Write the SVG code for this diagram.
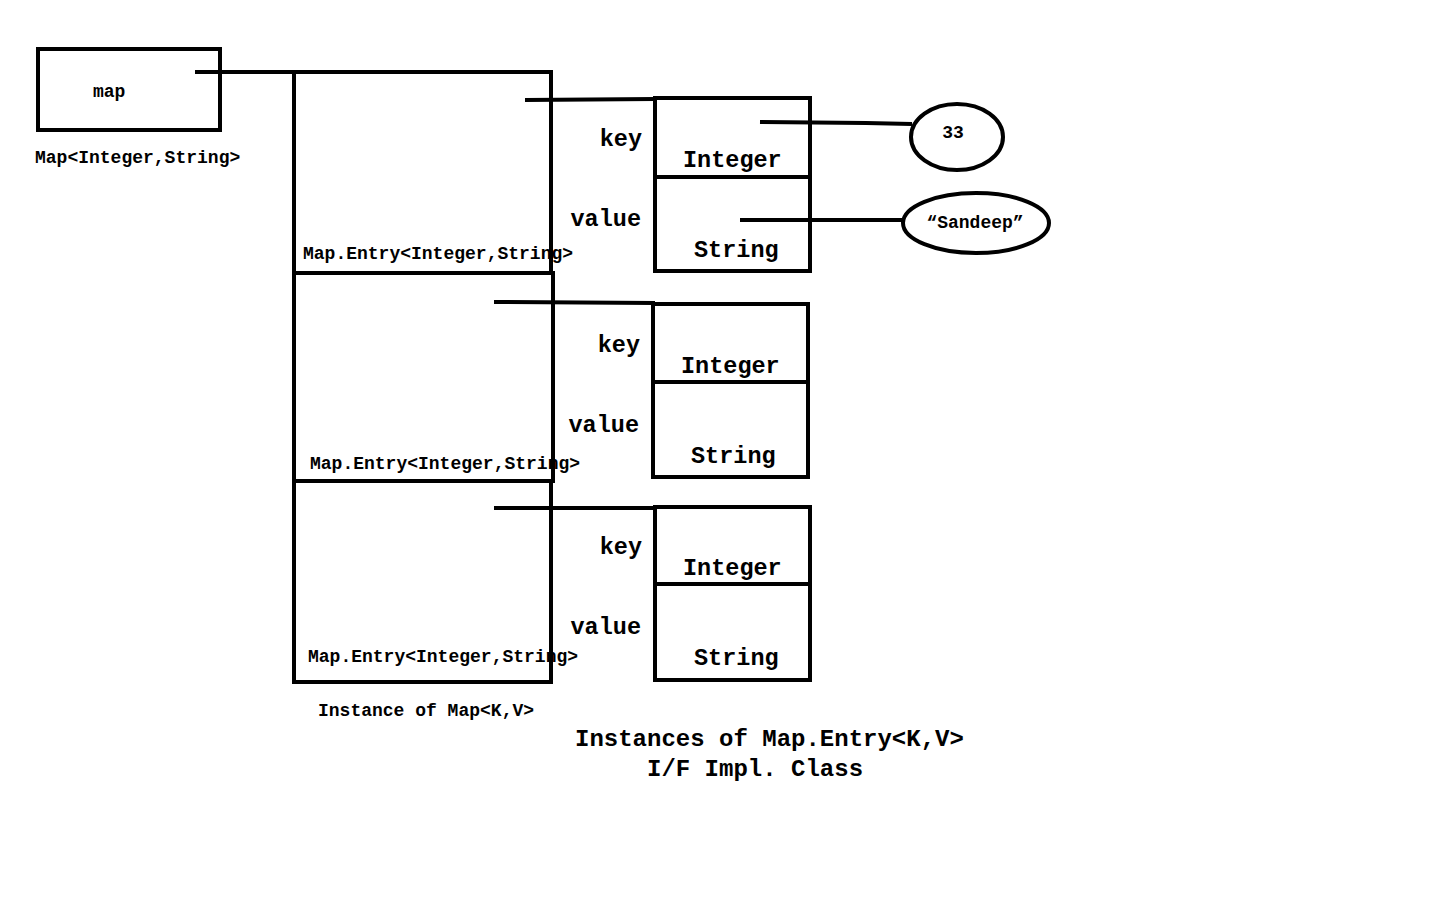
<svg xmlns="http://www.w3.org/2000/svg" width="1440" height="900" viewBox="0 0 1440 900">
<style>
.b{fill:none;stroke:#000;stroke-width:4}
.c{fill:none;stroke:#000;stroke-width:4}
text{font-family:"Liberation Mono","Courier New",monospace;font-weight:bold;fill:#000}
.s{font-size:18px}
.m{font-size:23.5px}
.l{font-size:24px}
</style>
<rect width="1440" height="900" fill="#fff"/>
<g id="map-ref">
<rect class="b" x="38" y="49" width="182" height="81"/>
<text class="s" x="93" y="97">map</text>
<text class="s" x="35" y="163">Map&lt;Integer,String&gt;</text>
</g>
<g id="map-instance">
<rect class="b" x="294" y="72" width="257" height="201"/>
<rect class="b" x="294" y="273" width="259" height="208"/>
<rect class="b" x="294" y="481" width="257" height="201"/>
<text class="s" x="303" y="259">Map.Entry&lt;Integer,String&gt;</text>
<text class="s" x="310" y="469">Map.Entry&lt;Integer,String&gt;</text>
<text class="s" x="308" y="662">Map.Entry&lt;Integer,String&gt;</text>
<text class="s" x="318" y="716">Instance of Map&lt;K,V&gt;</text>
</g>
<g id="entry1">
<rect class="b" x="655" y="98" width="155" height="79"/>
<rect class="b" x="655" y="177" width="155" height="94"/>
<text class="m" x="642" y="146" text-anchor="end">key</text>
<text class="m" x="683" y="167">Integer</text>
<text class="m" x="641" y="226" text-anchor="end">value</text>
<text class="m" x="694" y="257">String</text>
</g>
<g id="entry2">
<rect class="b" x="653" y="304" width="155" height="78"/>
<rect class="b" x="653" y="382" width="155" height="95"/>
<text class="m" x="640" y="352" text-anchor="end">key</text>
<text class="m" x="681" y="373">Integer</text>
<text class="m" x="639" y="432" text-anchor="end">value</text>
<text class="m" x="691" y="463">String</text>
</g>
<g id="entry3">
<rect class="b" x="655" y="507" width="155" height="77"/>
<rect class="b" x="655" y="584" width="155" height="96"/>
<text class="m" x="642" y="554" text-anchor="end">key</text>
<text class="m" x="683" y="575">Integer</text>
<text class="m" x="641" y="634" text-anchor="end">value</text>
<text class="m" x="694" y="665">String</text>
</g>
<g id="val33">
<ellipse class="b" cx="957" cy="137" rx="46" ry="33"/>
<text class="s" x="953" y="138" text-anchor="middle">33</text>
</g>
<g id="valSandeep">
<ellipse class="b" cx="976" cy="223" rx="73" ry="30"/>
<text class="s" x="975" y="228" text-anchor="middle">“Sandeep”</text>
</g>
<g id="captions">
<text class="l" x="575" y="746">Instances of Map.Entry&lt;K,V&gt;</text>
<text class="l" x="647" y="776">I/F Impl. Class</text>
</g>
<g id="connectors">
<polyline class="c" points="195,72 296,72"/>
<polyline class="c" points="525,100 655,99"/>
<polyline class="c" points="494,302 655,303"/>
<polyline class="c" points="494,508 657,508"/>
<polyline class="c" points="760,122 866,123 912,124"/>
<polyline class="c" points="740,220 903,220"/>
</g>
</svg>
